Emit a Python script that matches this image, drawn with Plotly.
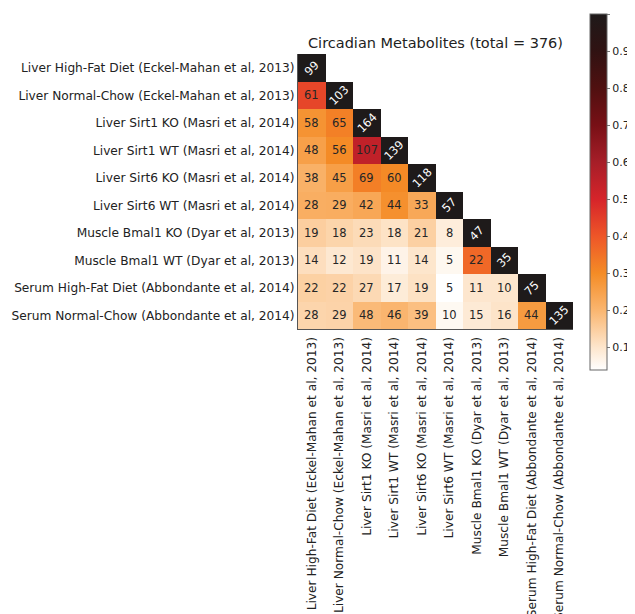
import plotly.graph_objects as go

labels = [
    "Liver High-Fat Diet (Eckel-Mahan et al, 2013)",
    "Liver Normal-Chow (Eckel-Mahan et al, 2013)",
    "Liver Sirt1 KO (Masri et al, 2014)",
    "Liver Sirt1 WT (Masri et al, 2014)",
    "Liver Sirt6 KO (Masri et al, 2014)",
    "Liver Sirt6 WT (Masri et al, 2014)",
    "Muscle Bmal1 KO (Dyar et al, 2013)",
    "Muscle Bmal1 WT (Dyar et al, 2013)",
    "Serum High-Fat Diet (Abbondante et al, 2014)",
    "Serum Normal-Chow (Abbondante et al, 2014)",
]

# lower-triangular overlap counts (row i, columns 0..i)
counts = [
    [99],
    [61, 103],
    [58, 65, 164],
    [48, 56, 107, 139],
    [38, 45, 69, 60, 118],
    [28, 29, 42, 44, 33, 57],
    [19, 18, 23, 18, 21, 8, 47],
    [14, 12, 19, 11, 14, 5, 22, 35],
    [22, 22, 27, 17, 19, 5, 11, 10, 75],
    [28, 29, 48, 46, 39, 10, 15, 16, 44, 135],
]

title = "Circadian Metabolites (total = 376)"
cbar_ticks = [0.1, 0.2, 0.3, 0.4, 0.5, 0.6, 0.7, 0.8, 0.9, 1.0]

n = len(labels)
diag = [counts[i][i] for i in range(n)]

# Jaccard similarity for colouring
z = [[None] * n for _ in range(n)]
for i in range(n):
    for j in range(i + 1):
        c = counts[i][j]
        z[i][j] = c / (diag[i] + diag[j] - c) if i != j else 1.0
vals = [v for row in z for v in row if v is not None]
zmin, zmax = min(vals), 1.0

stops = [
    (zmin, (255, 255, 255)),
    (0.1, (253, 230, 205)),
    (0.2, (250, 182, 112)),
    (0.3, (244, 140, 38)),
    (0.4, (238, 86, 40)),
    (0.5, (214, 36, 42)),
    (0.6, (166, 30, 40)),
    (0.7, (120, 16, 22)),
    (0.8, (80, 16, 16)),
    (0.9, (48, 18, 18)),
    (1.0, (30, 26, 26)),
]
colorscale = [[(v - zmin) / (zmax - zmin), "rgb(%d,%d,%d)" % c] for v, c in stops]

font = "DejaVu Sans"

fig = go.Figure()
fig.add_trace(go.Heatmap(
    z=z, x=list(range(n)), y=list(range(n)),
    zmin=zmin, zmax=zmax, colorscale=colorscale,
    hoverongaps=False,
    colorbar=dict(
        x=1.062, xanchor="left", xpad=0, ypad=0, thickness=17,
        lenmode="pixels", len=356, y=0.498, yanchor="middle",
        outlinecolor="#666", outlinewidth=1,
        tickvals=cbar_ticks, ticktext=["%.1f" % t for t in cbar_ticks],
        ticks="outside", ticklen=3, tickcolor="#777",
        tickfont=dict(family=font, size=11, color="#222"),
    ),
))

annotations = []
for i in range(n):
    for j in range(i + 1):
        is_diag = i == j
        annotations.append(dict(
            x=j, y=i, xref="x", yref="y", text=str(counts[i][j]),
            showarrow=False, textangle=-45 if is_diag else 0,
            font=dict(family=font, size=11.5, color="white" if is_diag else "#262626"),
        ))
annotations.append(dict(
    x=0.5, y=1, xref="paper", yref="paper", text=title, showarrow=False,
    xanchor="center", yanchor="bottom", yshift=1,
    font=dict(family=font, size=14.5, color="#222"),
))

rng_x = [-0.5, n - 0.5]
rng_y = [n - 0.5, -0.5]

fig.update_layout(
    width=627, height=606,
    margin=dict(l=290, r=62, t=46, b=285, autoexpand=False),
    paper_bgcolor="white", plot_bgcolor="white",
    annotations=annotations,
    font=dict(family=font, size=12, color="#222"),
    xaxis=dict(
        tickmode="array", tickvals=list(range(n)), ticktext=labels,
        tickangle=-90, range=rng_x, showgrid=False, zeroline=False,
        showline=True, linecolor="#555", linewidth=1, ticks="", ticklen=0,
        ticklabelstandoff=2, automargin=False,
        tickfont=dict(family=font, size=12.2, color="#222"),
    ),
    yaxis=dict(
        tickmode="array", tickvals=list(range(n)), ticktext=labels,
        range=rng_y, showgrid=False, zeroline=False,
        showline=True, linecolor="#555", linewidth=1, ticks="", ticklen=0,
        ticklabelstandoff=0, automargin=False,
        tickfont=dict(family=font, size=12.2, color="#222"),
    ),
    xaxis2=dict(
        overlaying="x", side="top", range=rng_x, tickmode="array",
        tickvals=list(range(n)), showticklabels=False, ticks="outside",
        ticklen=2, tickcolor="#888", showgrid=False, zeroline=False,
        showline=False, automargin=False,
    ),
    yaxis2=dict(
        overlaying="y", side="right", range=rng_y, tickmode="array",
        tickvals=list(range(n)), showticklabels=False, ticks="outside",
        ticklen=2, tickcolor="#888", showgrid=False, zeroline=False,
        showline=False, automargin=False,
    ),
)

fig.write_html("out.html")
